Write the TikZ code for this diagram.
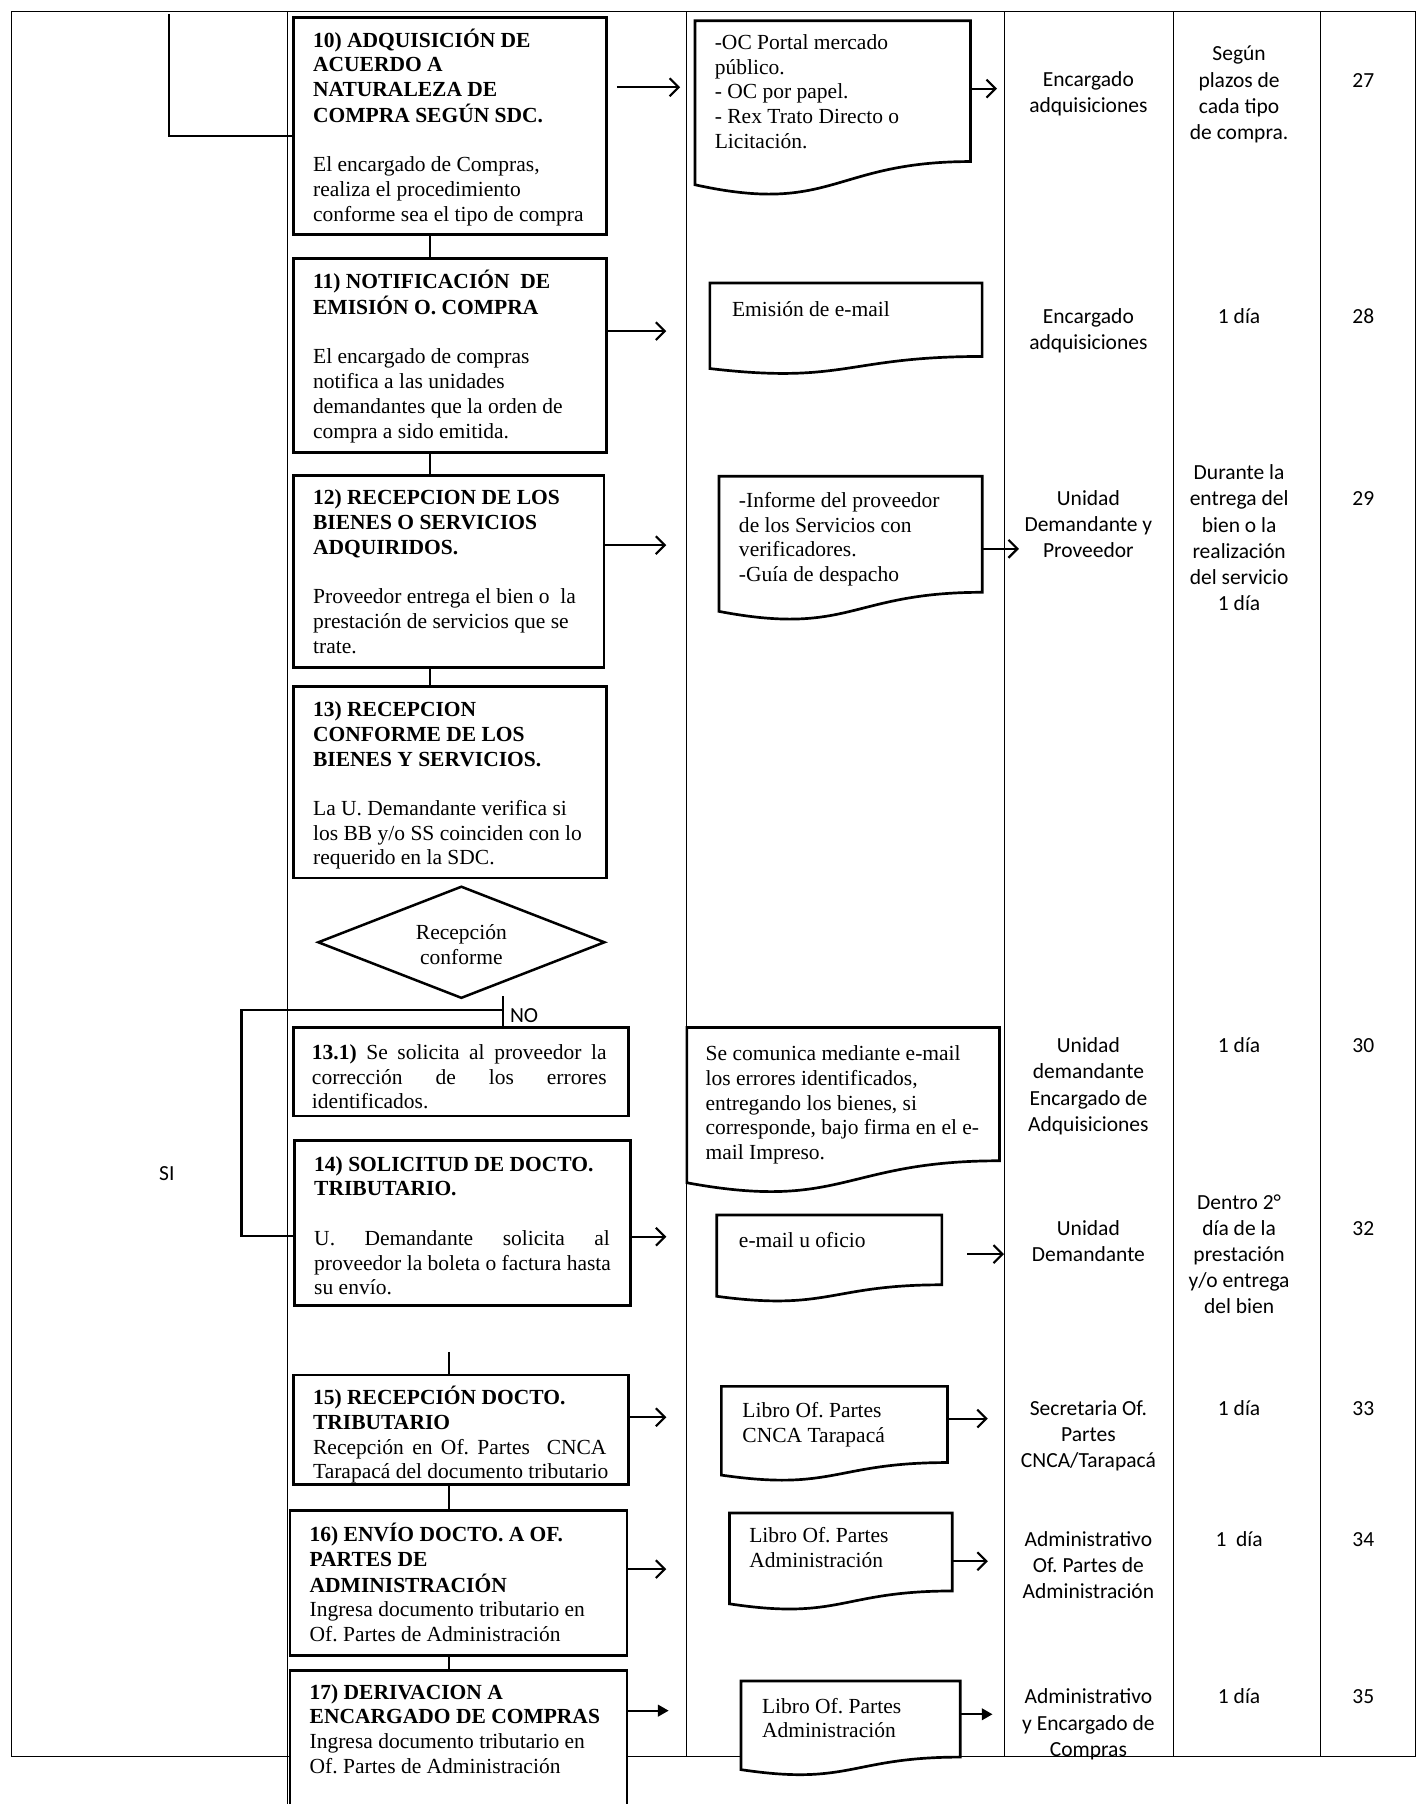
\documentclass[tikz,border=0pt]{standalone}
\usepackage{fontspec}
\setmainfont{Liberation Serif}
\newfontfamily\calibrifont{Carlito}
\usetikzlibrary{arrows.meta,calc}
\frenchspacing
\hyphenpenalty=10000

% left and centred stacks whose baseline is the first line
\newcommand\leftlines[1]{\begin{tabular}[t]{@{}l@{}}#1\end{tabular}}
\newcommand\midlines[1]{\begin{tabular}[t]{@{}c@{}}#1\end{tabular}}
% one justified line of the given width
\newcommand\spreadline[2]{\hbox to #1{\spaceskip=3pt plus 1fil\relax #2}}
% document symbol drawn on the frame of an empty node
\newcommand\docoutline[1]{%
  \path[docline] let \p1=(#1.north west), \p2=(#1.south east) in
    (\p1) -- (\x2,\y1) -- (\x2,{\y1+0.802*(\y2-\y1)})
    .. controls ({0.5*(\x1+\x2)},{\y1+0.802*(\y2-\y1)}) and ({0.5*(\x1+\x2)},{\y1+1.1075*(\y2-\y1)})
    .. (\x1,{\y1+0.934*(\y2-\y1)}) -- cycle;}

\tikzset{
  gridline/.style={line width=0.7pt},
  stepbox/.style={draw, line width=1.5pt, fill=white, rectangle, inner sep=0pt},
  docbox/.style={rectangle, inner sep=0pt, anchor=north west},
  docline/.style={draw, line width=1.5pt, fill=white},
  doctext/.style={inner sep=0pt, anchor=base west, font=\fontsize{12}{13.8}\selectfont},
  lanetext/.style={inner sep=0pt, anchor=base, font=\calibrifont\fontsize{12}{14.6}\selectfont},
  conn/.style={line width=1.3pt},
  arr/.style={line width=1.2pt, -{Straight Barb[length=5pt,width=10pt]}},
  farr/.style={line width=1.2pt, -{Triangle[length=6pt,width=6.5pt]}},
}

\begin{document}
\begin{tikzpicture}[x=0.642pt, y=-0.642pt]
\useasboundingbox (0,0) rectangle (1240,1568);
\clip (0,0) rectangle (1240,1568);
\fill[white] (0,0) rectangle (1240,1568);

% ---- table frame and lanes
\draw[gridline] (10,10) rectangle (1230,1527);
\foreach \lx in {250,597,873,1020,1148}
  \draw[gridline] (\lx,10) -- (\lx,1527);
\draw[gridline] (250,1527) -- (250,1568);

% ---- process step frames
\node[stepbox, minimum width=174.6pt, minimum height=121.3pt] (b10) at (391,109.5) {};
\node[stepbox, minimum width=174.6pt, minimum height=107.9pt] (b11) at (391,309) {};
\node[stepbox, minimum width=173.3pt, minimum height=107.2pt] (b12) at (390,496.5) {};
\node[stepbox, minimum width=174.6pt, minimum height=106.6pt] (b13) at (391,680) {};
\node[stepbox, minimum width=186.8pt, minimum height=49.4pt] (b131) at (400.5,931.5) {};
\node[stepbox, minimum width=187.5pt, minimum height=92.4pt] (b14) at (402,1063) {};
\node[stepbox, minimum width=186.8pt, minimum height=61pt] (b15) at (400.5,1242.5) {};
\node[stepbox, minimum width=188.1pt, minimum height=80.9pt] (b16) at (398.5,1376) {};
\node[stepbox, minimum width=188.1pt, minimum height=95pt] (b17) at (398.5,1526) {};

% ---- process step texts
\node[doctext] (b10t) at ($(b10.north west)+(18,27)$)
  {\leftlines{\textbf{10) ADQUISICIÓN DE}\\\textbf{ACUERDO A}\\\textbf{NATURALEZA DE}\\\textbf{COMPRA SEGÚN SDC.}\\[13.8pt]
   El encargado de Compras,\\realiza el procedimiento\\conforme sea el tipo de compra}};
\node[doctext] (b11t) at ($(b11.north west)+(18,27)$)
  {\leftlines{\textbf{11) NOTIFICACIÓN\ \ DE}\\\textbf{EMISIÓN O. COMPRA}\\[13.8pt]
   El encargado de compras\\notifica a las unidades\\demandantes que la orden de\\compra a sido emitida.}};
\node[doctext] (b12t) at ($(b12.north west)+(18,27)$)
  {\leftlines{\textbf{12) RECEPCION DE LOS}\\\textbf{BIENES O SERVICIOS}\\\textbf{ADQUIRIDOS.}\\[13.8pt]
   Proveedor entrega el bien o\ \ la\\prestación de servicios que se\\trate.}};
\node[doctext] (b13t) at ($(b13.north west)+(18,27)$)
  {\leftlines{\textbf{13) RECEPCION}\\\textbf{CONFORME DE LOS}\\\textbf{BIENES Y SERVICIOS.}\\[13.8pt]
   La U. Demandante verifica si\\los BB y/o SS coinciden con lo\\requerido en la SDC.}};
\node[doctext] (b131t) at ($(b131.north west)+(17,29)$)
  {\leftlines{\spreadline{164.4pt}{\textbf{13.1)} Se solicita al proveedor la}\\
   \spreadline{164.4pt}{corrección de los errores}\\identificados.}};
\node[doctext] (b14t) at ($(b14.north west)+(18,28)$)
  {\leftlines{\textbf{14) SOLICITUD DE DOCTO.}\\\textbf{TRIBUTARIO.}\\[13.8pt]
   \spreadline{165pt}{U. Demandante solicita al}\\
   \spreadline{165pt}{proveedor la boleta o factura hasta}\\su envío.}};
\node[doctext] (b15t) at ($(b15.north west)+(18,27)$)
  {\leftlines{\textbf{15) RECEPCIÓN DOCTO.}\\\textbf{TRIBUTARIO}\\
   \spreadline{163.7pt}{Recepción en Of. Partes\ \ CNCA}\\Tarapacá del documento tributario}};
\node[doctext] (b16t) at ($(b16.north west)+(18,28)$)
  {\leftlines{\textbf{16) ENVÍO DOCTO. A OF.}\\\textbf{PARTES DE}\\\textbf{ADMINISTRACIÓN}\\
   Ingresa documento tributario en\\Of. Partes de Administración}};
\node[doctext] (b17t) at ($(b17.north west)+(18,26)$)
  {\leftlines{\textbf{17) DERIVACION A}\\\textbf{ENCARGADO DE COMPRAS}\\
   Ingresa documento tributario en\\Of. Partes de Administración}};

% ---- decision
\node[inner sep=0pt, minimum width=159.2pt, minimum height=61.6pt, align=center,
  font=\fontsize{12}{13.8}\selectfont] (dia) at (401,819) {};
\draw[line width=1.4pt] (dia.north) -- (dia.east) -- (dia.south) -- (dia.west) -- cycle;
\node[inner sep=0pt, align=center, font=\fontsize{12}{13.8}\selectfont]
  (diat) at ($(dia.center)+(0,2)$) {Recepción\\conforme};

% ---- documents
\node[docbox, minimum width=153.4pt, minimum height=97.6pt] (d1) at (604,18) {};
\node[docbox, minimum width=151.5pt, minimum height=50.7pt] (d2) at (617,246) {};
\node[docbox, minimum width=146.4pt, minimum height=80.3pt] (d3) at (625,414) {};
\node[docbox, minimum width=174.0pt, minimum height=92.4pt] (d4) at (597,893) {};
\node[docbox, minimum width=125.2pt, minimum height=48.2pt] (d5) at (623,1056) {};
\node[docbox, minimum width=125.8pt, minimum height=52.6pt] (d6) at (627,1205) {};
\node[docbox, minimum width=123.9pt, minimum height=53.9pt] (d7) at (634,1315) {};
\node[docbox, minimum width=122.0pt, minimum height=52.6pt] (d8) at (644,1461) {};
\foreach \dn in {d1,d2,d3,d4,d5,d6,d7,d8} {\docoutline{\dn}}

\node[doctext] (d1t) at ($(d1.north west)+(17,25)$)
  {\leftlines{-OC Portal mercado\\público.\\- OC por papel.\\- Rex Trato Directo o\\Licitación.}};
\node[doctext] (d2t) at ($(d2.north west)+(19,29)$) {Emisión de e-mail};
\node[doctext] (d3t) at ($(d3.north west)+(17,27)$)
  {\leftlines{-Informe del proveedor\\de los Servicios con\\verificadores.\\-Guía de despacho}};
\node[doctext] (d4t) at ($(d4.north west)+(16,29)$)
  {\leftlines{Se comunica mediante e-mail\\los errores identificados,\\entregando los bienes, si\\corresponde, bajo firma en el e-\\mail Impreso.}};
\node[doctext] (d5t) at ($(d5.north west)+(19,28)$) {e-mail u oficio};
\node[doctext] (d6t) at ($(d6.north west)+(18,27)$) {\leftlines{Libro Of. Partes\\CNCA Tarapacá}};
\node[doctext] (d7t) at ($(d7.north west)+(17,26)$) {\leftlines{Libro Of. Partes\\Administración}};
\node[doctext] (d8t) at ($(d8.north west)+(18,28)$) {\leftlines{Libro Of. Partes\\Administración}};

% ---- sequence connectors
\coordinate (top0) at (147,12);
\draw[conn] (top0) |- ($(b10.north west)!0.545!(b10.south west)$);
\coordinate (spine) at (374,0);
\draw[conn] (b10.south -| spine) -- (b11.north -| spine);
\draw[conn] (b11.south -| spine) -- (b12.north -| spine);
\draw[conn] (b12.south -| spine) -- (b13.north -| spine);

\coordinate (nojoin) at (437,866);
\coordinate (loopx) at (210,878);
\draw[conn] (nojoin) -- (nojoin |- b131.north);
\draw[conn] (nojoin |- loopx) -- (loopx) |- ($(b14.north west)!0.576!(b14.south west)$);

\coordinate (s15) at (390,1175);
\draw[conn] (s15) -- (s15 |- b15.north);
\draw[conn] (b15.south -| s15) -- (b16.north -| s15);
\draw[conn] (b16.south -| s15) -- (b17.north -| s15);

% ---- flow arrows
\draw[arr] ($(b10.north east)+(8,62)$) -- ++(55,0);
\draw[arr] ($(d1.north east)+(0,59)$) -- ++(23,0);
\draw[arr] ($(b11.north east)+(0,64)$) -- ++(51,0);
\draw[arr] ($(b12.north east)+(0,62)$) -- ++(53,0);
\draw[arr] ($(d3.north east)+(0,63)$) -- ++(32,0);
\draw[arr] ($(b14.north east)+(0,85)$) -- ++(30,0);
\draw[arr] ($(d5.north east)+(22,34)$) -- ++(32,0);
\draw[arr] ($(b15.north east)+(0,38)$) -- ++(32,0);
\draw[arr] ($(d6.north east)+(0,28)$) -- ++(35,0);
\draw[arr] ($(b16.north east)+(0,52)$) -- ++(33,0);
\draw[arr] ($(d7.north east)+(0,42)$) -- ++(31,0);
\draw[farr] ($(b17.north east)+(0,36)$) -- ++(35,0);
\draw[farr] ($(d8.north east)+(0,29)$) -- ++(28,0);

% ---- branch labels
\node[inner sep=0pt, anchor=base west, font=\calibrifont\fontsize{12}{14}\selectfont]
  (nolbl) at ($(nojoin)+(6,23)$) {NO};
\node[inner sep=0pt, anchor=base, font=\calibrifont\fontsize{12}{14.6}\selectfont]
  (silbl) at (145,1026) {SI};

% ---- responsible, time and reference columns
\node[lanetext] (r10) at (946,75) {\midlines{Encargado\\adquisiciones}};
\node[lanetext] (t10) at (1077,53) {\midlines{Según\\plazos de\\cada tipo\\de compra.}};
\node[lanetext] (n10) at (1185,76) {27};

\node[lanetext] (r11) at (946,281) {\midlines{Encargado\\adquisiciones}};
\node[lanetext] (t11) at (1077,281) {1 día};
\node[lanetext] (n11) at (1185,281) {28};

\node[lanetext] (r12) at (946,439) {\midlines{Unidad\\Demandante y\\Proveedor}};
\node[lanetext] (t12) at (1077,417) {\midlines{Durante la\\entrega del\\bien o la\\realización\\del servicio\\1 día}};
\node[lanetext] (n12) at (1185,439) {29};

\node[lanetext] (r131) at (946,915) {\midlines{Unidad\\demandante\\Encargado de\\Adquisiciones}};
\node[lanetext] (t131) at (1077,915) {1 día};
\node[lanetext] (n131) at (1185,915) {30};

\node[lanetext] (r14) at (946,1074) {\midlines{Unidad\\Demandante}};
\node[lanetext] (t14) at (1077,1051) {\midlines{Dentro 2°\\día de la\\prestación\\y/o entrega\\del bien}};
\node[lanetext] (n14) at (1185,1074) {32};

\node[lanetext] (r15) at (946,1230) {\midlines{Secretaria Of.\\Partes\\CNCA/Tarapacá}};
\node[lanetext] (t15) at (1077,1230) {1 día};
\node[lanetext] (n15) at (1185,1230) {33};

\node[lanetext] (r16) at (946,1344) {\midlines{Administrativo\\Of. Partes de\\Administración}};
\node[lanetext] (t16) at (1077,1344) {1\ \ día};
\node[lanetext] (n16) at (1185,1344) {34};

\node[lanetext] (r17) at (946,1481) {\midlines{Administrativo\\y Encargado de\\Compras}};
\node[lanetext] (t17) at (1077,1481) {1 día};
\node[lanetext] (n17) at (1185,1481) {35};
\end{tikzpicture}
\end{document}
